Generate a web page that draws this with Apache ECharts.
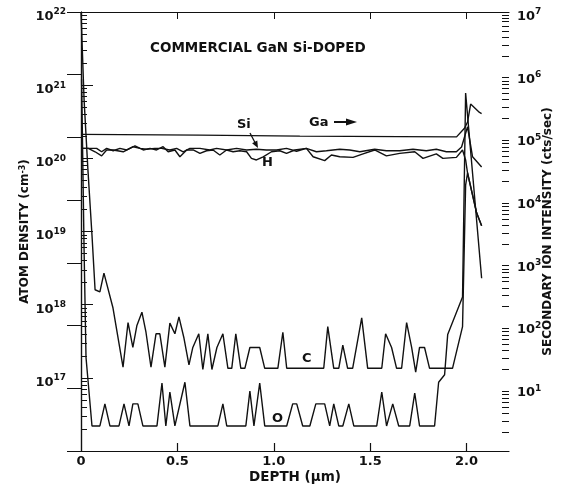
<!DOCTYPE html>
<html>
<head>
<meta charset="utf-8">
<script src="https://cdn.jsdelivr.net/npm/echarts@6.0.0/dist/echarts.min.js"></script>
<style>html,body{margin:0;padding:0;background:#fff}#chart{width:564px;height:484px}</style>
</head>
<body>
<div id="chart"></div>
<script>
// ---- data (depth in µm, atom density cm^-3 / counts per second) ----
const depthTicks = [0, 0.5, 1.0, 1.5, 2.0];
const leftDecades = [1e17, 1e18, 1e19, 1e20, 1e21, 1e22];
const rightDecades = [1e1, 1e2, 1e3, 1e4, 1e5, 1e6, 1e7];

const gallium = [[0.005,1.12e5],[0.617,1.09e5],[1.135,1.05e5],[1.653,1.03e5],[1.948,1.02e5],
  [1.990,1.41e5],[2.005,1.76e5],[2.021,3.4e5],[2.067,2.5e5],[2.078,2.4e5]];

const silicon = [[0.005,1.37e20],[0.038,1.37e20],[0.081,1.37e20],[0.107,1.23e20],[0.133,1.37e20],[0.167,1.27e20],
  [0.202,1.37e20],[0.237,1.30e20],[0.271,1.44e20],[0.306,1.37e20],[0.340,1.33e20],[0.383,1.37e20],[0.418,1.37e20],
  [0.461,1.30e20],[0.496,1.37e20],[0.530,1.23e20],[0.565,1.37e20],[0.617,1.37e20],[0.668,1.30e20],[0.703,1.37e20],
  [0.755,1.30e20],[0.807,1.37e20],[0.859,1.30e20],[0.910,1.33e20],[0.962,1.30e20],[1.014,1.30e20],[1.066,1.37e20],
  [1.118,1.25e20],[1.169,1.37e20],[1.221,1.23e20],[1.273,1.27e20],[1.342,1.33e20],[1.394,1.30e20],[1.446,1.23e20],
  [1.523,1.33e20],[1.584,1.27e20],[1.653,1.27e20],[1.722,1.33e20],[1.791,1.27e20],[1.843,1.33e20],[1.895,1.23e20],
  [1.947,1.23e20],[1.974,1.43e20],[2.005,2.7e20],[2.031,1.05e20],[2.078,7.6e19]];

const hydrogen = [[0.005,1.37e20],[0.038,1.37e20],[0.073,1.23e20],[0.107,1.08e20],[0.133,1.30e20],[0.167,1.30e20],
  [0.219,1.23e20],[0.254,1.37e20],[0.280,1.48e20],[0.323,1.30e20],[0.358,1.37e20],[0.392,1.30e20],[0.426,1.44e20],
  [0.452,1.23e20],[0.487,1.30e20],[0.513,1.05e20],[0.548,1.30e20],[0.582,1.30e20],[0.617,1.17e20],[0.651,1.27e20],
  [0.685,1.30e20],[0.720,1.11e20],[0.755,1.30e20],[0.789,1.23e20],[0.824,1.27e20],[0.859,1.23e20],[0.884,1.0e20],
  [0.910,9.5e19],[0.945,1.05e20],[0.988,1.23e20],[1.031,1.27e20],[1.066,1.17e20],[1.109,1.30e20],[1.169,1.37e20],
  [1.204,1.05e20],[1.264,9.3e19],[1.299,1.11e20],[1.342,1.05e20],[1.411,1.03e20],[1.463,1.15e20],[1.523,1.30e20],
  [1.584,1.08e20],[1.653,1.17e20],[1.731,1.23e20],[1.774,1.0e20],[1.843,1.15e20],[1.877,1.0e20],[1.947,1.03e20],
  [1.979,1.30e20],[1.995,9.5e19],[2.005,6.3e19],[2.052,1.8e19],[2.078,1.2e19]];

const carbon = [[0,1e22],[0.016,6.3e20],[0.036,6.9e19],[0.057,8.9e18],[0.073,1.6e18],[0.098,1.5e18],[0.119,2.7e18],
  [0.166,9.0e17],[0.218,1.4e17],[0.244,5.7e17],[0.269,2.6e17],[0.290,5.2e17],[0.316,7.9e17],[0.337,4.2e17],
  [0.363,1.4e17],[0.389,4.0e17],[0.409,4.0e17],[0.435,1.4e17],[0.461,5.6e17],[0.487,4.0e17],[0.508,6.8e17],
  [0.534,3.5e17],[0.560,1.5e17],[0.580,2.6e17],[0.611,4.0e17],[0.632,1.3e17],[0.658,4.0e17],[0.679,1.3e17],
  [0.705,2.6e17],[0.736,4.0e17],[0.762,1.35e17],[0.782,1.35e17],[0.803,4.0e17],[0.829,1.35e17],[0.850,1.35e17],
  [0.876,2.6e17],[0.927,2.6e17],[0.953,1.35e17],[1.021,1.35e17],[1.047,4.2e17],[1.067,1.35e17],[1.259,1.35e17],
  [1.280,5.0e17],[1.311,1.35e17],[1.337,1.35e17],[1.358,2.8e17],[1.383,1.35e17],[1.409,1.35e17],[1.456,6.6e17],
  [1.487,1.35e17],[1.560,1.35e17],[1.580,4.0e17],[1.611,2.6e17],[1.637,1.35e17],[1.663,1.35e17],[1.689,5.7e17],
  [1.715,2.6e17],[1.736,1.2e17],[1.756,2.6e17],[1.782,2.6e17],[1.808,1.35e17],[1.927,1.35e17],[1.979,5.0e17],
  [1.995,4.3e19],[2.005,6.3e19],[2.052,1.8e19],[2.078,1.2e19]];

const oxygen = [[0.003,1.2e21],[0.016,5.6e18],[0.026,1.9e17],[0.057,2.2e16],[0.098,2.2e16],[0.124,4.4e16],[0.150,2.2e16],
  [0.197,2.2e16],[0.223,4.4e16],[0.249,2.2e16],[0.269,4.4e16],[0.295,4.4e16],[0.321,2.2e16],[0.394,2.2e16],
  [0.420,8.5e16],[0.440,2.2e16],[0.461,6.4e16],[0.487,2.2e16],[0.539,8.7e16],[0.565,2.2e16],[0.710,2.2e16],
  [0.736,4.4e16],[0.756,2.2e16],[0.855,2.2e16],[0.876,6.6e16],[0.897,2.2e16],[0.927,8.5e16],[0.953,2.2e16],
  [1.067,2.2e16],[1.098,4.4e16],[1.119,4.4e16],[1.150,2.2e16],[1.187,2.2e16],[1.218,4.4e16],[1.264,4.4e16],
  [1.290,2.2e16],[1.311,4.4e16],[1.337,2.2e16],[1.358,2.2e16],[1.389,4.4e16],[1.415,2.2e16],[1.534,2.2e16],
  [1.560,6.4e16],[1.585,2.2e16],[1.617,4.4e16],[1.648,2.2e16],[1.705,2.2e16],[1.731,6.2e16],[1.756,2.2e16],
  [1.834,2.2e16],[1.855,8.7e16],[1.886,1.1e17],[1.902,3.9e17],[1.979,1.27e18],[1.995,7.8e20],[2.078,2.3e18]];

// ---- helpers ----
function minorValues(lo, hi) {
  const out = [];
  for (let e = lo; e < hi; e++) for (let k = 2; k <= 9; k++) out.push(k * Math.pow(10, e));
  return out;
}
const INK = '#111';
const FONT = 'DejaVu Sans';
function powLabel(v) { return '{b|10}{s|' + Math.round(Math.log10(v)) + '}'; }
const powRich = {
  b: { fontSize: 13, fontWeight: 'bold', fontFamily: FONT, color: INK, lineHeight: 13, verticalAlign: 'bottom' },
  s: { fontSize: 9, fontWeight: 'bold', fontFamily: FONT, color: INK, lineHeight: 22, verticalAlign: 'middle' }
};
function lineSeries(name, data, yIdx) {
  return { name, type: 'line', data, yAxisIndex: yIdx, symbol: 'none', animation: false,
    lineStyle: { color: INK, width: 1.4 } };
}
function yAxisBase(pos, min, max) {
  return { type: 'log', logBase: 10, position: pos, min, max, splitLine: { show: false }, minorTick: { show: false } };
}

const chart = echarts.init(document.getElementById('chart'), null, { renderer: 'canvas' });
chart.setOption({
  backgroundColor: '#fff',
  animation: false,
  grid: { left: 81, right: 55, top: 12, bottom: 33, containLabel: false, outerBoundsMode: 'none' },
  xAxis: [
    { type: 'value', min: 0, max: 2.22, position: 'bottom',
      axisLine: { show: true, lineStyle: { color: INK, width: 1.2 } },
      axisTick: { show: true, inside: true, length: 8, customValues: depthTicks.slice(1), lineStyle: { color: INK, width: 1.2 } },
      axisLabel: { customValues: depthTicks, margin: 4, fontSize: 13, fontWeight: 'bold', fontFamily: FONT, color: INK,
        formatter: v => (v === 0 ? '0' : v.toFixed(1)) },
      splitLine: { show: false },
      name: 'DEPTH (μm)', nameLocation: 'middle', nameGap: 19, nameMoveOverlap: false,
      nameTextStyle: { fontSize: 13.5, fontWeight: 'bold', fontFamily: FONT, color: INK } },
    { type: 'value', min: 0, max: 2.22, position: 'top',
      axisLine: { show: true, lineStyle: { color: INK, width: 1.2 } },
      axisTick: { show: true, inside: true, length: 7, customValues: depthTicks.slice(1), lineStyle: { color: INK } },
      axisLabel: { show: false }, splitLine: { show: false } }
  ],
  yAxis: [
    Object.assign(yAxisBase('left', 1e16, 1e22), {
      axisLine: { show: true, lineStyle: { color: INK, width: 1.2 } },
      axisTick: { show: true, inside: true, length: 12, customValues: leftDecades, lineStyle: { color: INK } },
      axisLabel: { customValues: leftDecades, margin: 15, formatter: powLabel, rich: powRich },
      name: 'ATOM DENSITY (cm{s|-3})', nameLocation: 'middle', nameRotate: 90, nameGap: 50, nameMoveOverlap: false,
      nameTextStyle: { fontSize: 12, fontWeight: 'bold', fontFamily: FONT, color: INK,
        rich: { s: { fontSize: 8, fontWeight: 'bold', fontFamily: FONT, color: INK, verticalAlign: 'top', lineHeight: 8 } } } }),
    Object.assign(yAxisBase('right', 1, 1e7), {
      axisLine: { show: true, lineStyle: { color: INK, width: 1.2 } },
      axisTick: { show: true, inside: true, length: 14, customValues: rightDecades.concat([1]), lineStyle: { color: INK } },
      axisLabel: { customValues: rightDecades, margin: 8, formatter: powLabel, rich: powRich },
      name: 'SECONDARY ION INTENSITY (cts/sec)', nameLocation: 'middle', nameRotate: 90, nameGap: 33, nameMoveOverlap: false,
      nameTextStyle: { fontSize: 12, fontWeight: 'bold', fontFamily: FONT, color: INK } }),
    Object.assign(yAxisBase('left', 1e16, 1e22), {
      axisLine: { show: false },
      axisTick: { show: true, inside: true, length: 6, customValues: minorValues(16, 22), lineStyle: { color: INK } },
      axisLabel: { show: false } }),
    Object.assign(yAxisBase('right', 1, 1e7), {
      axisLine: { show: false },
      axisTick: { show: true, inside: true, length: 7, customValues: minorValues(0, 7), lineStyle: { color: INK } },
      axisLabel: { show: false } })
  ],
  series: [
    lineSeries('Ga', gallium, 1),
    lineSeries('Si', silicon, 0),
    lineSeries('H', hydrogen, 0),
    lineSeries('C', carbon, 0),
    lineSeries('O', oxygen, 0)
  ],
  graphic: [
    { type: 'text', left: 150, top: 41, style: { text: 'COMMERCIAL GaN Si-DOPED', font: 'bold 13.5px "DejaVu Sans"', fill: INK } },
    { type: 'text', left: 237, top: 118, style: { text: 'Si', font: 'bold 13px "DejaVu Sans"', fill: INK } },
    { type: 'text', left: 262, top: 156, style: { text: 'H', font: 'bold 13px "DejaVu Sans"', fill: INK } },
    { type: 'text', left: 309, top: 116, style: { text: 'Ga', font: 'bold 13px "DejaVu Sans"', fill: INK } },
    { type: 'text', left: 302, top: 352, style: { text: 'C', font: 'bold 13px "DejaVu Sans"', fill: INK } },
    { type: 'text', left: 272, top: 412, style: { text: 'O', font: 'bold 13px "DejaVu Sans"', fill: INK } },
    { type: 'line', shape: { x1: 334, y1: 122, x2: 348, y2: 122 }, style: { stroke: INK, lineWidth: 2 } },
    { type: 'polygon', shape: { points: [[346, 118.5], [357, 122], [346, 125.5]] }, style: { fill: INK } },
    { type: 'line', shape: { x1: 250, y1: 133, x2: 255.5, y2: 143.5 }, style: { stroke: INK, lineWidth: 1.3 } },
    { type: 'polygon', shape: { points: [[258, 148], [252.1, 143.2], [257.3, 140.4]] }, style: { fill: INK } }
  ]
});
</script>
</body>
</html>
